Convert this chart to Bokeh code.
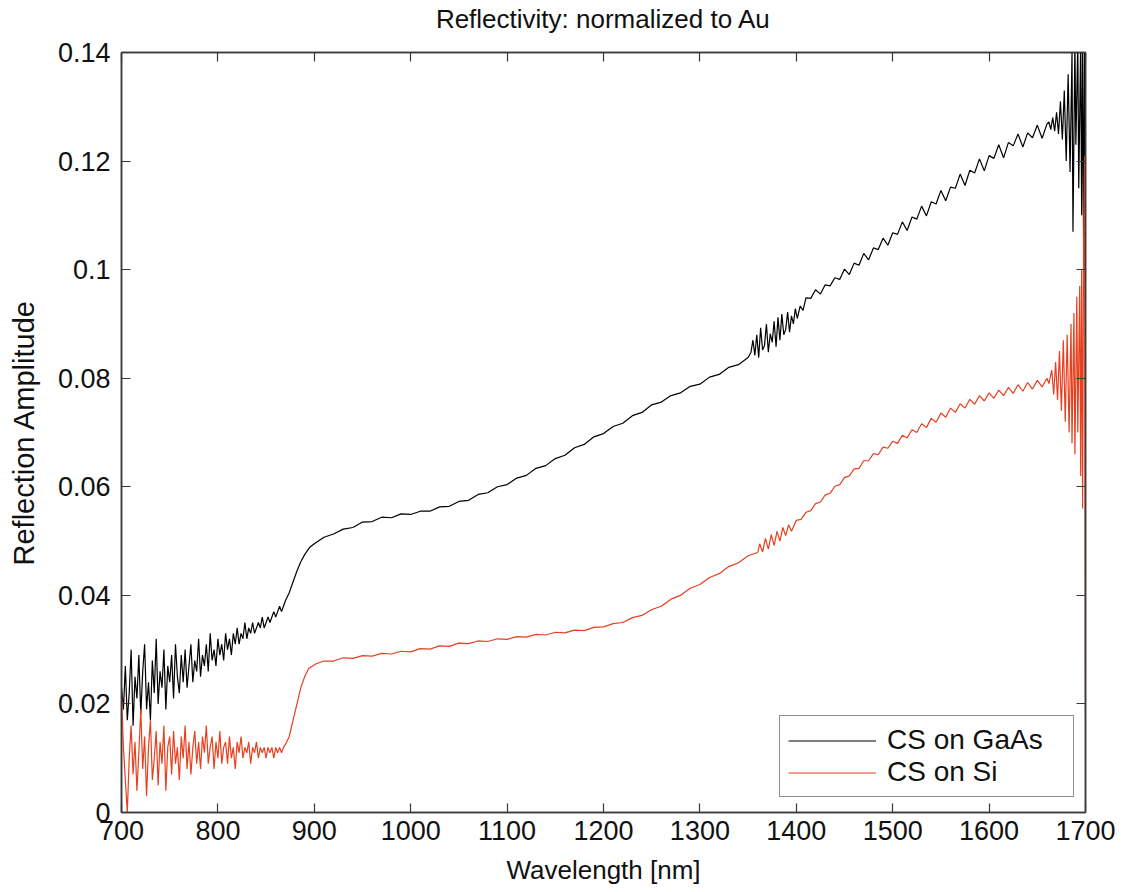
from bokeh.plotting import figure
from bokeh.models import Range1d, LinearAxis, FixedTicker, Legend, LegendItem
from bokeh.embed import file_html
from bokeh.resources import INLINE

# ---------------- data ----------------
gaas_wl = [
    700, 702, 704, 706, 708, 710, 712, 714, 716, 718, 720, 722, 724, 726, 728, 730, 732, 734, 736, 738,
    740, 742, 744, 746, 748, 750, 752, 754, 756, 758, 760, 762, 764, 766, 768, 770, 772, 774, 776, 778,
    780, 782, 784, 786, 788, 790, 792, 794, 796, 798, 800, 802, 804, 806, 808, 810, 812, 814, 816, 818,
    820, 822, 824, 826, 828, 830, 832, 834, 836, 838, 840, 842, 844, 846, 848, 850, 852, 854, 856, 858,
    860, 862, 864, 866, 868, 870,
    874, 878, 882, 886, 890, 895, 900, 910, 920, 930, 940, 950, 960, 970, 980, 990, 1000,
    1010, 1020, 1030, 1040, 1050, 1060, 1070, 1080, 1090, 1100, 1110, 1120, 1130, 1140, 1150,
    1160, 1170, 1180, 1190, 1200, 1210, 1220, 1230, 1240, 1250, 1260, 1270, 1280, 1290, 1300,
    1310, 1320, 1330, 1340, 1350,
    1353, 1355, 1357, 1359, 1361, 1363, 1365, 1367, 1369, 1371, 1373, 1375, 1377, 1379, 1381, 1383,
    1385, 1387, 1389, 1391, 1393, 1395, 1397, 1399, 1401, 1404, 1407,
    1410, 1415, 1420, 1425, 1430, 1435, 1440, 1445, 1450, 1455, 1460, 1465, 1470, 1475, 1480, 1485,
    1490, 1495, 1500, 1505, 1510, 1515, 1520, 1525, 1530, 1535, 1540, 1545, 1550, 1555, 1560, 1565,
    1570, 1575, 1580, 1585, 1590, 1595, 1600, 1605, 1610, 1615, 1620, 1625, 1630, 1635, 1640, 1645,
    1650, 1655, 1660,
    1662, 1664, 1666, 1668, 1670, 1672, 1674, 1676, 1678, 1680, 1682, 1684, 1686, 1687, 1689, 1690,
    1692, 1693, 1695, 1696, 1697, 1698, 1699, 1700,
]
gaas_refl = [
    .023, .019, .027, .017, .022, .030, .016, .025, .021, .029, .018, .026, .031, .019, .024, .017, .028, .022, .032, .020,
    .026, .023, .030, .019, .027, .024, .029, .021, .031, .025, .022, .029, .024, .030, .023, .027, .031, .024, .028, .026,
    .032, .025, .029, .027, .031, .026, .033, .028, .030, .027, .032, .029, .031, .028, .033, .030, .032, .029, .033, .031,
    .034, .031, .033, .032, .035, .032, .034, .033, .035, .033, .034, .035, .034, .036, .034, .035, .036, .035, .036, .037,
    .036, .037, .038, .037, .038, .039,
    .0405, .0425, .0445, .0462, .0475, .0488, .0495, .0507, .0513, .0522, .0525, .0535, .0536, .0544, .0543, .0550, .0549,
    .0555, .0555, .0563, .0564, .0573, .0575, .0586, .0589, .0600, .0604, .0616, .0621, .0634, .0639, .0652,
    .0658, .0672, .0678, .0692, .0698, .0711, .0717, .0731, .0737, .0751, .0756, .0768, .0773, .0785, .0789,
    .0802, .0807, .0820, .0825, .0838,
    .0848, .0870, .0842, .0880, .0838, .0893, .0852, .0860, .0900, .0848, .0882, .0866, .0905, .0858, .0912, .0870,
    .0918, .0880, .0890, .0922, .0885, .0915, .0900, .0928, .0910, .0933, .0925,
    .0948, .0947, .0963, .0955, .0972, .0970, .0985, .0982, .1001, .0991, .1012, .1008, .1030, .1018, .1040, .1037,
    .1058, .1045, .1068, .1065, .1088, .1072, .1097, .1093, .1117, .1099, .1125, .1121, .1146, .1127, .1152, .1150,
    .1176, .1155, .1183, .1178, .1204, .1182, .1210, .1205, .1230, .1206, .1234, .1228, .1250, .1226, .1252, .1243,
    .1266, .1242, .1268,
    .1272, .1258, .1280, .1255, .1290, .1250, .1310, .1240, .1330, .1200, .1360, .1180, .1400, .1070, .1420, .1230,
    .1420, .1150, .1420, .1100, .1420, .1040, .1420, .1040,
]

si_wl = [
    700, 702, 704, 706, 708, 710, 712, 714, 716, 718, 720, 722, 724, 726, 728, 730, 732, 734, 736, 738,
    740, 742, 744, 746, 748, 750, 752, 754, 756, 758, 760, 762, 764, 766, 768, 770, 772, 774, 776, 778,
    780, 782, 784, 786, 788, 790, 792, 794, 796, 798, 800, 802, 804, 806, 808, 810, 812, 814, 816, 818,
    820, 822, 824, 826, 828, 830, 832, 834, 836, 838, 840, 842, 844, 846, 848, 850, 852, 854, 856, 858,
    860, 862, 864, 866, 868, 870,
    874, 878, 882, 886, 890, 894, 898, 902, 910, 920, 930, 940, 950, 960, 970, 980, 990, 1000,
    1010, 1020, 1030, 1040, 1050, 1060, 1070, 1080, 1090, 1100, 1110, 1120, 1130, 1140, 1150,
    1160, 1170, 1180, 1190, 1200, 1210, 1220, 1230, 1240, 1250, 1260, 1270, 1280, 1290, 1300,
    1310, 1320, 1330, 1340, 1350, 1360,
    1362, 1365, 1368, 1371, 1374, 1377, 1380, 1383, 1386, 1389, 1392, 1395,
    1400, 1405, 1410, 1415, 1420, 1425, 1430, 1435, 1440, 1445, 1450, 1455, 1460, 1465, 1470, 1475,
    1480, 1485, 1490, 1495, 1500, 1505, 1510, 1515, 1520, 1525, 1530, 1535, 1540, 1545, 1550, 1555,
    1560, 1565, 1570, 1575, 1580, 1585, 1590, 1595, 1600, 1605, 1610, 1615, 1620, 1625, 1630, 1635,
    1640, 1645, 1650, 1655, 1660,
    1662, 1665, 1667, 1669, 1671, 1673, 1675, 1677, 1679, 1681, 1683, 1685, 1686, 1688, 1689, 1691,
    1692, 1694, 1695, 1696, 1697, 1698, 1699, 1700,
]
si_refl = [
    .022, .012, .006, .000, .010, .016, .007, .013, .004, .011, .019, .008, .014, .003, .012, .017, .006, .010, .015, .005,
    .013, .009, .016, .004, .012, .014, .007, .015, .009, .012, .006, .014, .010, .016, .008, .013, .007, .012, .015, .009,
    .013, .008, .014, .011, .016, .009, .012, .014, .008, .013, .010, .015, .009, .012, .013, .009, .014, .010, .012, .008,
    .013, .011, .014, .010, .012, .011, .013, .009, .012, .011, .013, .010, .012, .011, .012, .010, .012, .011, .012, .010,
    .012, .011, .012, .011, .012, .0125,
    .0140, .0170, .0200, .0230, .0250, .0265, .0270, .0274, .0279, .0279, .0285, .0284, .0289, .0288, .0293, .0292, .0297, .0296,
    .0302, .0301, .0307, .0306, .0312, .0311, .0316, .0315, .0320, .0319, .0324, .0323, .0328, .0327, .0332,
    .0331, .0336, .0335, .0341, .0342, .0348, .0350, .0359, .0363, .0374, .0380, .0393, .0400, .0413, .0420,
    .0433, .0440, .0453, .0460, .0473, .0479,
    .0495, .0480, .0505, .0485, .0512, .0492, .0518, .0500, .0525, .0510, .0530, .0518,
    .0538, .0540, .0553, .0556, .0569, .0572, .0585, .0588, .0601, .0604, .0617, .0620, .0633, .0634, .0648, .0648,
    .0661, .0659, .0673, .0671, .0684, .0680, .0695, .0690, .0705, .0700, .0716, .0709, .0726, .0719, .0736, .0728,
    .0745, .0737, .0753, .0745, .0761, .0752, .0768, .0758, .0773, .0763, .0778, .0768, .0783, .0772, .0788, .0776,
    .0792, .0780, .0796, .0784, .0800,
    .0790, .0815, .0770, .0830, .0760, .0850, .0740, .0870, .0720, .0880, .0700, .0900, .0680, .0920, .0660, .0950,
    .0700, .0970, .0620, .1000, .0560, .1050, .1210, .0170,
]

x_ticks = [700, 800, 900, 1000, 1100, 1200, 1300, 1400, 1500, 1600, 1700]
y_ticks = [0, 0.02, 0.04, 0.06, 0.08, 0.1, 0.12, 0.14]
y_tick_labels = ["0", "0.02", "0.04", "0.06", "0.08", "0.1", "0.12", "0.14"]

title_text = "Reflectivity: normalized to Au"
x_label = "Wavelength [nm]"
y_label = "Reflection Amplitude"
series_names = ["CS on GaAs", "CS on Si"]
series_colors = ["#000000", "#e8401e"]

# ---------------- figure ----------------
FONT = "Liberation Sans"
AX = "#3a3a3a"
TXT = "#111111"

p = figure(frame_width=964, frame_height=760, output_backend="svg", toolbar_location=None,
           x_range=Range1d(700, 1700), y_range=Range1d(0, 0.14), title=None,
           min_border_left=121, min_border_right=38, min_border_top=52, min_border_bottom=80,
           background_fill_color="white", border_fill_color="white")
p.grid.visible = False
p.outline_line_color = AX
p.outline_line_width = 1.5

def style_axis(ax, labels=True):
    ax.major_tick_in = 9
    ax.major_tick_out = 0
    ax.minor_tick_in = 0
    ax.minor_tick_out = 0
    ax.axis_line_color = AX
    ax.axis_line_width = 1.5
    ax.major_tick_line_color = AX
    ax.major_tick_line_width = 1.2
    ax.axis_label_text_font = FONT
    ax.axis_label_text_font_size = "26px"
    ax.axis_label_text_font_style = "normal"
    ax.axis_label_text_color = TXT
    if labels:
        ax.major_label_text_font = FONT
        ax.major_label_text_font_size = "27px"
        ax.major_label_text_color = TXT
    else:
        ax.major_label_text_font_size = "0px"
        ax.major_label_text_color = None
        ax.major_label_standoff = 0

xa = p.xaxis[0]
xa.ticker = FixedTicker(ticks=x_ticks)
xa.axis_label = x_label
style_axis(xa)
xa.major_label_standoff = 8
xa.axis_label_standoff = 12

ya = p.yaxis[0]
ya.ticker = FixedTicker(ticks=y_ticks)
ya.major_label_overrides = {t: s for t, s in zip(y_ticks, y_tick_labels)}
ya.axis_label = y_label
style_axis(ya)
ya.axis_label_text_font_size = "29px"
ya.major_label_standoff = 11
ya.axis_label_standoff = 15

# top axis: mirrored ticks, and it carries the chart title as its label
top = LinearAxis(ticker=FixedTicker(ticks=x_ticks))
style_axis(top, labels=False)
top.axis_label = title_text
top.axis_label_standoff = 19
p.add_layout(top, "above")

right = LinearAxis(ticker=FixedTicker(ticks=y_ticks))
style_axis(right, labels=False)
p.add_layout(right, "right")

r_gaas = p.line(gaas_wl, gaas_refl, line_color=series_colors[0], line_width=1.2)
r_si = p.line(si_wl, si_refl, line_color=series_colors[1], line_width=1.2)

legend = Legend(items=[LegendItem(label=series_names[0], renderers=[r_gaas]),
                       LegendItem(label=series_names[1], renderers=[r_si])],
                location=(658, 15))
legend.label_text_font = FONT
legend.label_text_font_size = "28px"
legend.label_text_color = TXT
legend.border_line_color = "#222222"
legend.border_line_width = 1.2
legend.background_fill_color = "white"
legend.background_fill_alpha = 1.0
legend.glyph_width = 88
legend.glyph_height = 29
legend.label_height = 29
legend.label_width = 178
legend.label_standoff = 11
legend.padding = 8
legend.spacing = 0
legend.margin = 0
p.add_layout(legend, "center")

open("out.html", "w").write(file_html(p, INLINE))
